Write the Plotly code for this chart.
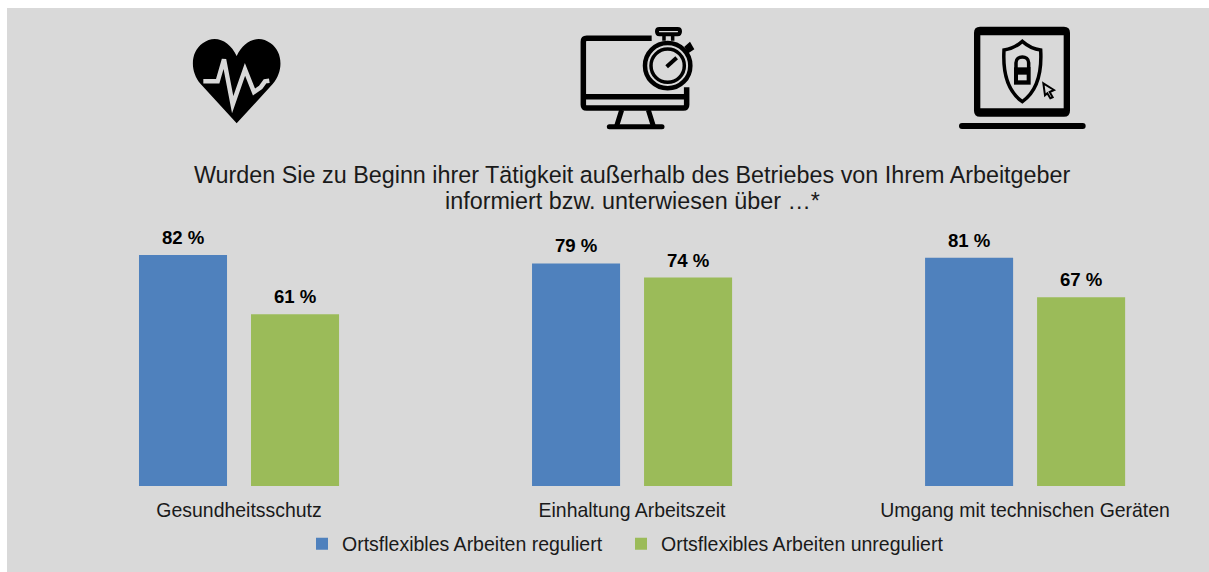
import re
import plotly.graph_objects as go

categories = ["Gesundheitsschutz", "Einhaltung Arbeitszeit", "Umgang mit technischen Geräten"]
series_names = ["Ortsflexibles Arbeiten reguliert", "Ortsflexibles Arbeiten unreguliert"]
regulated = [82, 79, 81]
unregulated = [61, 74, 67]
title_lines = ["Wurden Sie zu Beginn ihrer Tätigkeit außerhalb des Betriebes von Ihrem Arbeitgeber",
               "informiert bzw. unterwiesen über …*"]
BLUE, GREEN, GRAY = "#4f81bd", "#9bbb59", "#d9d9d9"
W, H = 1209, 572


def P(path, ox=0, oy=0):
    """Icon path from pixel coordinates (scale 1/3 plus offset) to paper coordinates."""
    tokens = re.findall(r"[MLCQZ]|-?\d+\.?\d*", path)
    out, xy = [], []
    for t in tokens:
        if t in "MLCQZ":
            out.append(t)
        else:
            xy.append(float(t))
            if len(xy) == 2:
                out.append(f"{(xy[0]/3+ox)/W:.5f},{1-(xy[1]/3+oy)/H:.5f}")
                xy = []
    return " ".join(out)


def shape(path, ox, oy, fill=None, stroke=None, lw=0):
    d = dict(type="path", xref="paper", yref="paper", path=P(path, ox, oy), layer="above",
             line=dict(width=lw, color=stroke if stroke else "rgba(0,0,0,0)"))
    if fill:
        d["fillcolor"] = fill
    return d


def ring(cx, cy, r):
    k = 0.5523 * r
    return (f"M {cx-r} {cy} C {cx-r} {cy-k} {cx-k} {cy-r} {cx} {cy-r} C {cx+k} {cy-r} {cx+r} {cy-k} {cx+r} {cy} "
            f"C {cx+r} {cy+k} {cx+k} {cy+r} {cx} {cy+r} C {cx-k} {cy+r} {cx-r} {cy+k} {cx-r} {cy} Z")


def capsule(x1, x2, y, h):
    r = h / 2
    return (f"M {x1} {y-r} L {x2} {y-r} Q {x2+r} {y-r} {x2+r} {y} Q {x2+r} {y+r} {x2} {y+r} "
            f"L {x1} {y+r} Q {x1-r} {y+r} {x1-r} {y} Q {x1-r} {y-r} {x1} {y-r} Z")


shapes = [dict(type="rect", xref="paper", yref="paper", x0=7/W, x1=1, y0=0, y1=1-8/H,
               fillcolor=GRAY, line=dict(width=0), layer="below")]

# Heart icon
ox, oy = 150, 10
shapes.append(shape("M 260 340 L 152 222 C 118 182 122 125 158 100 C 195 72 238 92 260 138 "
                    "C 282 92 325 72 362 100 C 398 125 402 182 368 222 Z", ox, oy, fill="black"))
shapes.append(shape("M 160 214 L 203 214 L 222 148 L 248 284 L 285 178 L 312 246 L 332 232 L 345 214 L 358 212",
                    ox, oy, stroke=GRAY, lw=4.5))

# Monitor and stopwatch icon
ox, oy = 560, 10
shapes.append(shape("M 275 85 L 80 85 Q 70 85 70 95 L 70 284 Q 70 294 80 294 L 370 294 Q 380 294 380 284 L 380 232",
                    ox, oy, stroke="black", lw=5.5))
shapes.append(shape("M 70 260 L 380 260", ox, oy, stroke="black", lw=5.5))
shapes.append(shape("M 185 300 L 170 348 M 265 300 L 280 348", ox, oy, stroke="black", lw=5))
shapes.append(shape(capsule(148, 306, 350, 15), ox, oy, fill="black"))
shapes.append(shape(ring(323, 167, 68), ox, oy, stroke="black", lw=4.5))
shapes.append(shape(ring(323, 167, 50), ox, oy, stroke="black", lw=3.5))
shapes.append(shape("M 298 57 L 353 57 Q 360 57 360 64 Q 360 73 353 73 L 298 73 Q 291 73 291 64 Q 291 57 298 57 Z",
                    ox, oy, stroke="black", lw=4))
shapes.append(shape("M 312 78 L 312 92 M 338 78 L 338 92", ox, oy, stroke="black", lw=3.5))
shapes.append(shape("M 373 110 L 390 95 L 403 118 L 385 130 Z", ox, oy, fill="black"))
shapes.append(shape("M 320 170 L 350 143", ox, oy, stroke="black", lw=4))

# Laptop and shield icon
ox, oy = 930, 10
shapes.append(shape("M 150 50 L 402 50 Q 420 50 420 68 L 420 302 Q 420 320 402 320 L 150 320 Q 132 320 132 302 "
                    "L 132 68 Q 132 50 150 50 Z", ox, oy, fill="black"))
shapes.append(shape("M 151 76 L 401 76 L 401 295 L 151 295 Z", ox, oy, fill=GRAY))
shapes.append(shape(capsule(96, 458, 348, 18), ox, oy, fill="black"))
shapes.append(shape("M 277 94 C 295 110 315 118 332 120 C 336 190 320 245 277 275 C 234 245 218 190 222 120 "
                    "C 239 118 259 110 277 94 Z", ox, oy, stroke="black", lw=3.5))
shapes.append(shape("M 258 174 L 258 158 C 258 135 296 135 296 158 L 296 174", ox, oy, stroke="black", lw=3.5))
shapes.append(shape("M 252 172 L 302 172 L 302 224 L 252 224 Z", ox, oy, fill="black"))
shapes.append(shape("M 264 194 L 290 194 L 290 211 L 264 211 Z", ox, oy, fill=GRAY))
shapes.append(shape("M 340 220 L 372 240 L 359 246 L 368 262 L 361 265 L 352 250 L 345 256 Z",
                    ox, oy, fill=GRAY, stroke="black", lw=2))

fig = go.Figure()
annotations = []
for name, vals, col, dx, leg in [(series_names[0], regulated, BLUE, -56, "legend"),
                                 (series_names[1], unregulated, GREEN, 56, "legend2")]:
    fig.add_trace(go.Bar(name=name, x=categories, y=vals, legend=leg,
                         marker=dict(color=col, line=dict(width=0))))
    for c, v in zip(categories, vals):
        annotations.append(dict(x=c, y=v, xref="x", yref="y", text=f"{v} %", showarrow=False,
                                xanchor="center", yanchor="bottom", xshift=dx, yshift=5,
                                font=dict(family="Liberation Sans", size=18.6, color="black", weight="bold")))
for line, py in zip(title_lines, [175, 201]):
    annotations.append(dict(x=632/W, y=1-py/H, xref="paper", yref="paper", text=line, showarrow=False,
                            xanchor="center", yanchor="middle",
                            font=dict(family="Liberation Sans", size=23.35, color="#1a1a1a")))

legend_style = dict(orientation="h", xanchor="left", y=1-544/H, yanchor="middle",
                    bgcolor="rgba(0,0,0,0)", font=dict(size=19.5), itemwidth=30)

fig.update_layout(
    width=W, height=H, margin=dict(l=0, r=0, t=0, b=0, autoexpand=False),
    paper_bgcolor="white", plot_bgcolor="rgba(0,0,0,0)",
    font=dict(family="Liberation Sans", color="#1a1a1a"),
    barmode="group", bargap=0.43, bargroupgap=0.214,
    shapes=shapes, annotations=annotations,
    xaxis=dict(domain=[42.5/W, 1200/W], range=[-0.5, 2.445], showgrid=False, zeroline=False,
               showline=False, ticks="", tickfont=dict(size=19.45), ticklabelstandoff=11),
    yaxis=dict(domain=[1-486/H, 1-230/H], range=[0, 90.88], visible=False),
    showlegend=True,
    legend=dict(x=302/W, **legend_style),
    legend2=dict(x=621/W, **legend_style),
)

fig.write_html("out.html", config={"displayModeBar": False}, post_script="document.body.style.margin='0';")
